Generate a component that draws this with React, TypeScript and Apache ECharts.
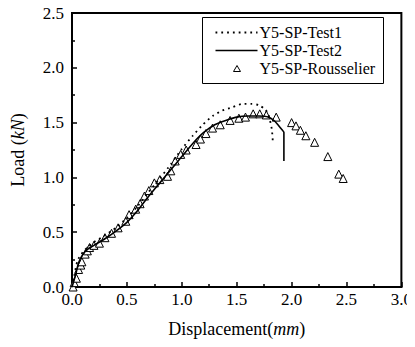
import React, { useEffect, useRef } from "react";
import * as echarts from "echarts";

const test1: [number, number][] = [
  [0, 0], [0.02, 0.1], [0.05, 0.24], [0.1, 0.32], [0.15, 0.37], [0.2, 0.41], [0.3, 0.47],
  [0.4, 0.54], [0.5, 0.63], [0.6, 0.74], [0.7, 0.87], [0.8, 0.99], [0.9, 1.12], [1.0, 1.26],
  [1.1, 1.38], [1.19, 1.48], [1.28, 1.56], [1.37, 1.61], [1.46, 1.64], [1.55, 1.67],
  [1.64, 1.67], [1.7, 1.66], [1.76, 1.62], [1.79, 1.57], [1.82, 1.44], [1.83, 1.31],
];

const test2: [number, number][] = [
  [0, 0], [0.03, 0.1], [0.06, 0.22], [0.1, 0.3], [0.15, 0.35], [0.2, 0.38], [0.3, 0.44],
  [0.4, 0.51], [0.5, 0.59], [0.6, 0.7], [0.7, 0.83], [0.8, 0.95], [0.9, 1.07], [1.0, 1.19],
  [1.1, 1.31], [1.2, 1.41], [1.3, 1.48], [1.4, 1.52], [1.5, 1.55], [1.6, 1.56], [1.7, 1.56],
  [1.79, 1.55], [1.85, 1.51], [1.9, 1.45], [1.93, 1.41], [1.93, 1.15],
];

const rousselier: [number, number][] = [
  [0.01, 0.0], [0.02, 0.04], [0.04, 0.08], [0.06, 0.16], [0.08, 0.2], [0.09, 0.23],
  [0.12, 0.3], [0.14, 0.33], [0.16, 0.36], [0.2, 0.38], [0.25, 0.4], [0.3, 0.45],
  [0.36, 0.49], [0.42, 0.54], [0.49, 0.6], [0.52, 0.66], [0.58, 0.71], [0.62, 0.76],
  [0.66, 0.83], [0.7, 0.88], [0.75, 0.95], [0.8, 0.98], [0.87, 1.01], [0.9, 1.06],
  [0.94, 1.15], [0.99, 1.21], [1.04, 1.25], [1.13, 1.3], [1.17, 1.35],
  [1.22, 1.4], [1.28, 1.45], [1.35, 1.48], [1.44, 1.52], [1.52, 1.54], [1.58, 1.55],
  [1.65, 1.58], [1.71, 1.58], [1.77, 1.57], [1.86, 1.55], [2.0, 1.5], [2.04, 1.47],
  [2.08, 1.43], [2.13, 1.38], [2.21, 1.32], [2.33, 1.19], [2.43, 1.03], [2.47, 0.99],
];

const seriesNames = ["Y5-SP-Test1", "Y5-SP-Test2", "Y5-SP-Rousselier"];

const FONT = "Liberation Serif";

export default function App() {
  const ref = useRef<HTMLDivElement>(null);
  useEffect(() => {
    const chart = echarts.init(ref.current!, null, { renderer: "svg" });
    const lx = 202, ly = 17;
    chart.setOption({
      animation: false,
      backgroundColor: "#fff",
      textStyle: { fontFamily: FONT, color: "#000" },
      grid: {
        left: 72, right: 9, top: 13, bottom: 60,
        show: true, borderColor: "#000", borderWidth: 2,
      },
      graphic: [
        {
          type: "group",
          left: lx, top: ly,
          z: 100,
          children: [
            { type: "rect", shape: { x: 0, y: 0, width: 181, height: 66 }, style: { fill: "#fff", stroke: "#000", lineWidth: 1 } },
            { type: "line", shape: { x1: 13, y1: 15, x2: 55, y2: 15 }, style: { stroke: "#000", lineWidth: 1.8, lineDash: [1.8, 4] } },
            { type: "line", shape: { x1: 13, y1: 33, x2: 55, y2: 33 }, style: { stroke: "#000", lineWidth: 1.6 } },
            { type: "polygon", shape: { points: [[34.5, 48], [31, 54], [38, 54]] }, style: { fill: "#fff", stroke: "#000", lineWidth: 1 } },
            { type: "text", x: 57, y: 15, style: { text: seriesNames[0], font: "16px 'Liberation Serif'", fill: "#000", textVerticalAlign: "middle" } },
            { type: "text", x: 57, y: 33, style: { text: seriesNames[1], font: "16px 'Liberation Serif'", fill: "#000", textVerticalAlign: "middle" } },
            { type: "text", x: 57, y: 51, style: { text: seriesNames[2], font: "16px 'Liberation Serif'", fill: "#000", textVerticalAlign: "middle" } },
          ],
        },
      ],
      xAxis: {
        type: "value",
        min: 0, max: 3, interval: 0.5,
        name: "Displacement({it|mm})",
        nameLocation: "middle",
        nameGap: 33,
        nameTextStyle: {
          fontFamily: FONT, fontSize: 18, color: "#000",
          rich: { it: { fontFamily: FONT, fontSize: 18, fontStyle: "italic", color: "#000" } },
        },
        axisLine: { show: true, lineStyle: { color: "#000", width: 2 } },
        axisTick: { show: true, inside: true, length: 5, lineStyle: { color: "#000", width: 1.5 } },
        minorTick: { show: true, splitNumber: 2, length: 3, lineStyle: { color: "#000", width: 1.5 } },
        axisLabel: {
          fontFamily: FONT, fontSize: 17, color: "#000", margin: 4,
          formatter: (v: number) => v.toFixed(1),
        },
        splitLine: { show: false },
      },
      yAxis: {
        type: "value",
        min: 0, max: 2.5, interval: 0.5,
        name: "Load ({it|kN})",
        nameLocation: "middle",
        nameGap: 45,
        nameTextStyle: {
          fontFamily: FONT, fontSize: 18, color: "#000",
          rich: { it: { fontFamily: FONT, fontSize: 18, fontStyle: "italic", color: "#000" } },
        },
        axisLine: { show: true, lineStyle: { color: "#000", width: 2 } },
        axisTick: { show: true, inside: true, length: 5, lineStyle: { color: "#000", width: 1.5 } },
        minorTick: { show: true, splitNumber: 2, length: 3, lineStyle: { color: "#000", width: 1.5 } },
        axisLabel: {
          fontFamily: FONT, fontSize: 17, color: "#000", margin: 8,
          formatter: (v: number) => v.toFixed(1),
        },
        splitLine: { show: false },
      },
      series: [
        {
          name: seriesNames[0],
          type: "line",
          data: test1,
          symbol: "none",
          smooth: 0.2,
          lineStyle: { color: "#000", width: 1.8, type: [1.8, 4] },
        },
        {
          name: seriesNames[1],
          type: "line",
          data: test2,
          symbol: "none",
          smooth: 0.15,
          lineStyle: { color: "#000", width: 1.6 },
        },
        {
          name: seriesNames[2],
          type: "scatter",
          data: rousselier,
          symbol: "triangle",
          symbolSize: 8,
          itemStyle: { color: "#fff", borderColor: "#000", borderWidth: 1, opacity: 1 },
        },
      ],
    });
    return () => chart.dispose();
  }, []);
  return <div ref={ref} style={{ width: 415, height: 347, margin: -8 }} />;
}
